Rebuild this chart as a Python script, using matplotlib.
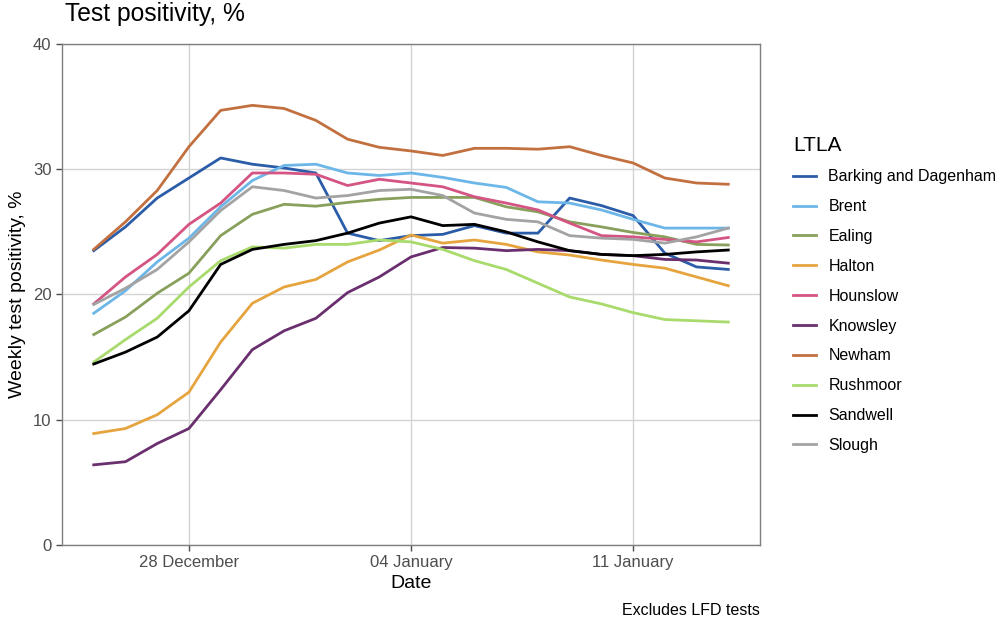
import numpy as np
import pandas as pd
import matplotlib
matplotlib.use("Agg")
from matplotlib import pyplot as plt
import matplotlib.dates as mdates

plt.rcParams['font.family'] = ['Liberation Sans', 'DejaVu Sans']

dates = pd.date_range("2020-12-25", "2021-01-14", freq="D")

barking = [23.5, 25.4, 27.7, 29.3, 30.9, 30.4, 30.1, 29.7, 24.9, 24.3, 24.7,
           24.8, 25.5, 24.9, 24.9, 27.7, 27.1, 26.3, 23.3, 22.2, 22.0]
brent = [18.5, 20.3, 22.6, 24.5, 27.0, 29.1, 30.3, 30.4, 29.7, 29.5, 29.7,
         29.35, 28.9, 28.55, 27.4, 27.3, 26.75, 26.0, 25.3, 25.3, 25.3]
ealing = [16.8, 18.2, 20.1, 21.7, 24.7, 26.4, 27.2, 27.05, 27.35, 27.6, 27.75,
          27.75, 27.75, 27.0, 26.6, 25.8, 25.4, 24.95, 24.6, 24.0, 23.95]
halton = [8.9, 9.3, 10.4, 12.2, 16.2, 19.3, 20.6, 21.2, 22.6, 23.55, 24.75,
          24.1, 24.35, 24.0, 23.4, 23.15, 22.75, 22.4, 22.1, 21.4, 20.7]
hounslow = [19.25, 21.4, 23.2, 25.6, 27.3, 29.7, 29.7, 29.6, 28.7, 29.2, 28.9,
            28.6, 27.8, 27.3, 26.75, 25.7, 24.7, 24.6, 24.4, 24.2, 24.55]
knowsley = [6.4, 6.65, 8.1, 9.3, 12.4, 15.6, 17.1, 18.1, 20.15, 21.4, 23.0,
            23.75, 23.7, 23.5, 23.6, 23.5, 23.2, 23.1, 22.8, 22.75, 22.5]
newham = [23.6, 25.8, 28.3, 31.8, 34.7, 35.1, 34.85, 33.9, 32.4, 31.75, 31.46,
          31.1, 31.67, 31.67, 31.6, 31.8, 31.1, 30.5, 29.3, 28.9, 28.8]
rushmoor = [14.6, 16.4, 18.1, 20.6, 22.7, 23.8, 23.7, 24.0, 24.0, 24.35, 24.2,
            23.6, 22.7, 22.0, 20.9, 19.8, 19.25, 18.55, 18.0, 17.9, 17.8]
sandwell = [14.45, 15.4, 16.6, 18.7, 22.4, 23.6, 24.0, 24.3, 24.9, 25.7, 26.2,
            25.5, 25.6, 25.0, 24.2, 23.5, 23.2, 23.1, 23.2, 23.4, 23.55]
slough = [19.2, 20.5, 22.0, 24.2, 26.7, 28.6, 28.3, 27.7, 27.9, 28.3, 28.4,
          27.9, 26.5, 26.0, 25.8, 24.7, 24.5, 24.4, 24.1, 24.6, 25.3]

ltla_names = ["Barking and Dagenham", "Brent", "Ealing", "Halton", "Hounslow",
              "Knowsley", "Newham", "Rushmoor", "Sandwell", "Slough"]
series = [barking, brent, ealing, halton, hounslow,
          knowsley, newham, rushmoor, sandwell, slough]
colours = ["#2b5ca8", "#6cb6e8", "#88a05c", "#e6a43f", "#d45483",
           "#6a2f6e", "#c2703f", "#a8da6c", "#000000", "#a3a3a3"]

fig = plt.figure(figsize=(10.02, 6.23), dpi=100)
ax = fig.add_axes([0.0619, 0.1252, 0.6966, 0.8042])

for name, vals, col in zip(ltla_names, series, colours):
    ax.plot(dates, vals, color=col, lw=2.0, label=name)

ax.set_xlim(pd.Timestamp("2020-12-24"), pd.Timestamp("2021-01-15"))
ax.set_ylim(0, 40)
ax.set_yticks([0, 10, 20, 30, 40])
ax.set_xticks([pd.Timestamp("2020-12-28"), pd.Timestamp("2021-01-04"),
               pd.Timestamp("2021-01-11")])
ax.xaxis.set_major_formatter(mdates.DateFormatter("%d %B"))

ax.grid(True, color="#d4d4d4", lw=1.0)
ax.set_axisbelow(True)
for sp in ax.spines.values():
    sp.set_color("#7f7f7f")
    sp.set_linewidth(1.0)
ax.tick_params(colors="#4d4d4d", labelsize=12, length=4, width=1.0,
               labelcolor="#4d4d4d")

ax.set_xlabel("Date", fontsize=14, color="black", labelpad=3)
ax.set_ylabel("Weekly test positivity, %", fontsize=14, color="black", labelpad=5)
fig.text(0.065, 0.958, "Test positivity, %", fontsize=17.7, ha="left", va="bottom")
fig.text(0.758, 0.008, "Excludes LFD tests", fontsize=11.5, ha="right", va="bottom")

leg = ax.legend(loc="upper left", bbox_to_anchor=(1.027, 0.846), frameon=False,
                title="LTLA", fontsize=11.5, handlelength=1.4, handletextpad=0.8,
                labelspacing=0.93, alignment="left")
leg.get_title().set_fontsize(15)

fig.savefig("out.png", dpi=100)
